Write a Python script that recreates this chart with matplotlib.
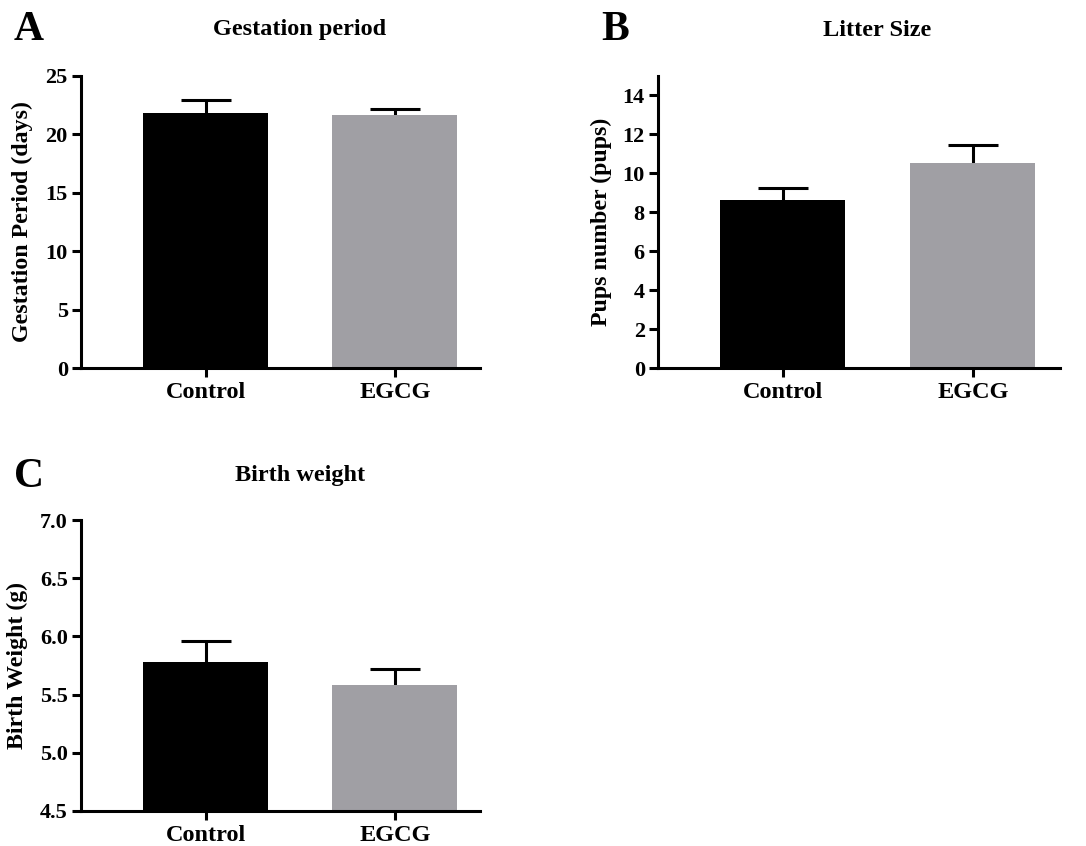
import matplotlib
matplotlib.use("Agg")
import matplotlib.pyplot as plt
import numpy as np

plt.rcParams['font.family'] = ['Liberation Serif', 'DejaVu Serif']
plt.rcParams['font.weight'] = 'bold'

groups = ["Control", "EGCG"]
bar_colors = ["#000000", "#a09fa4"]

gest_mean = [21.8, 21.66]
gest_sem = [1.15, 0.5]

litter_mean = [8.62, 10.52]
litter_sem = [0.65, 0.91]

weight_mean = [5.777, 5.585]
weight_sem = [0.186, 0.137]

W, H = 1086, 846
fig = plt.figure(figsize=(W / 100, H / 100), dpi=100)


def px_axes(l, r, t, b):
    return fig.add_axes([l / W, 1 - b / H, (r - l) / W, (b - t) / H])


def draw(ax, means, sems, ylim, yticks, yfmt, ylabel, xl, xr, bw, labx):
    x = np.arange(len(groups))
    ax.bar(x, means, width=bw, color=bar_colors, edgecolor='none', zorder=3)
    ax.errorbar(x, means, yerr=sems, fmt='none',
                ecolor='black', elinewidth=2.2, capsize=18, capthick=2.2, zorder=2)
    ax.set_xlim(xl, xr)
    ax.set_ylim(*ylim)
    ax.set_yticks(yticks)
    ax.set_yticklabels([yfmt.format(v) for v in yticks])
    ax.set_xticks(x)
    ax.set_xticklabels(groups)
    for s in ['top', 'right']:
        ax.spines[s].set_visible(False)
    for s in ['left', 'bottom']:
        ax.spines[s].set_linewidth(2.2)
        ax.spines[s].set_zorder(4)
    ax.tick_params(width=2.2, length=6.5, labelsize=16, pad=3)
    ax.tick_params(axis='x', labelsize=17.5, pad=3.5)
    for lab in ax.get_xticklabels() + ax.get_yticklabels():
        lab.set_fontweight('bold')
    ax.set_ylabel(ylabel, fontsize=17.2, fontweight='bold')
    ax.yaxis.set_label_coords(labx, 0.5)


axA = px_axes(81, 480, 76, 368)
draw(axA, gest_mean, gest_sem, (0, 25), [0, 5, 10, 15, 20, 25], "{:g}",
     "Gestation Period (days)", -0.661, 1.45, 0.661, -0.120)

axB = px_axes(658, 1060, 76, 368)
draw(axB, litter_mean, litter_sem, (0, 15), [0, 2, 4, 6, 8, 10, 12, 14], "{:g}",
     "Pups number (pups)", -0.658, 1.459, 0.658, -0.114)

axC = px_axes(81, 480, 520, 811)
draw(axC, weight_mean, weight_sem, (4.5, 7.0), [4.5, 5.0, 5.5, 6.0, 6.5, 7.0], "{:.1f}",
     "Birth Weight (g)", -0.661, 1.45, 0.661, -0.133)

# titles
fig.text(300 / W, 1 - 30 / H, "Gestation period", ha='center', va='center', fontsize=17.5, fontweight='bold')
fig.text(877 / W, 1 - 30 / H, "Litter Size", ha='center', va='center', fontsize=17.5, fontweight='bold')
fig.text(300 / W, 1 - 475 / H, "Birth weight", ha='center', va='center', fontsize=17.5, fontweight='bold')

# panel letters
fig.text(29 / W, 1 - 30 / H, "A", ha='center', va='center', fontsize=30, fontweight='bold')
fig.text(615 / W, 1 - 30 / H, "B", ha='center', va='center', fontsize=30, fontweight='bold')
fig.text(29 / W, 1 - 477 / H, "C", ha='center', va='center', fontsize=30, fontweight='bold')

fig.savefig("out.png", dpi=100)
